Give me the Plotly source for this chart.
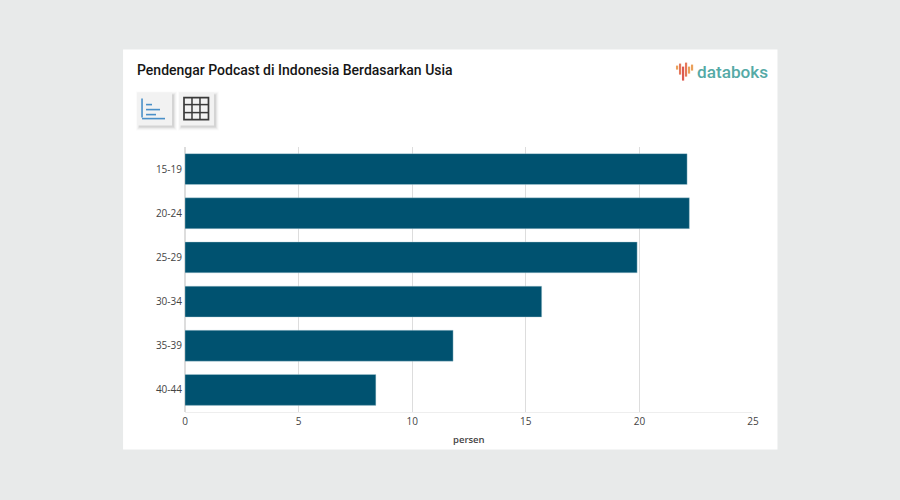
import plotly.graph_objects as go

categories = ["15-19", "20-24", "25-29", "30-34", "35-39", "40-44"]
values = [22.1, 22.2, 19.9, 15.7, 11.8, 8.4]
x_ticks = [0, 5, 10, 15, 20, 25]
title_text = "Pendengar Podcast di Indonesia Berdasarkan Usia"
x_title = "persen"
logo_text = "databoks"

W, H = 900, 500
L, R, T, B = 185, 753.5, 147.4, 412.4


def px(x):
    return (x - L) / (R - L)


def py(y):
    return (B - y) / (B - T)


shapes = []


def rect(x0, y0, x1, y1, fill=None, line=None, lw=1, layer="above"):
    s = dict(type="rect", xref="paper", yref="paper", x0=px(x0), x1=px(x1), y0=py(y1), y1=py(y0),
             layer=layer, line=dict(width=lw if line else 0, color=line or "rgba(0,0,0,0)"))
    if fill:
        s["fillcolor"] = fill
    shapes.append(s)


def seg(x0, y0, x1, y1, color, lw=1):
    shapes.append(dict(type="line", xref="paper", yref="paper", x0=px(x0), x1=px(x1), y0=py(y0), y1=py(y1),
                       layer="above", line=dict(color=color, width=lw)))


# white card
rect(123, 50, 778, 450, fill="#ffffff", layer="below")

# icon buttons with soft shadow
for bx0, bx1 in [(137, 172), (179, 214)]:
    for i, a in [(3, 0.02), (2, 0.03), (1, 0.05), (0, 0.07)]:
        rect(bx0 - i + 2, 93 - i + 2, bx1 + i + 2, 126 + i + 2, fill=f"rgba(0,0,0,{a})")
    rect(bx0, 93, bx1, 126, fill="#f2f2f2")

# chart icon
blue = "#4a90c8"
seg(142, 99, 142, 118, blue, 1.6)
seg(142, 119, 165, 119, blue, 1.6)
seg(146, 105, 152, 105, blue, 1.6)
seg(146, 110, 160, 110, blue, 1.6)
seg(146, 115, 156, 115, blue, 1.6)

# table icon
dark = "#3a3a3a"
rect(184, 98, 208.5, 120, line=dark, lw=1.7)
seg(192, 98, 192, 120, dark, 1.5)
seg(200, 98, 200, 120, dark, 1.5)
seg(184, 105, 208.5, 105, dark, 1.5)
seg(184, 113, 208.5, 113, dark, 1.5)

# logo glyph
logo_bars = [(677.5, 66, 70, "#eaa05a"), (680.5, 64, 75, "#e5775a"), (683.5, 67, 81, "#dc5a50"),
             (686.5, 63, 77, "#e5775a"), (689.5, 67, 74, "#eaa05a"), (692.5, 65, 71, "#eaa05a")]
for x, y0, y1, c in logo_bars:
    seg(x, y0, x, y1, c, 2.2)

fig = go.Figure(go.Bar(
    y=categories, x=values, orientation="h",
    marker=dict(color="#005270", line=dict(color="#b9d3dc", width=0.4)),
    width=0.7, hoverinfo="x+y",
))

fig.update_layout(
    width=W, height=H,
    margin=dict(l=L, r=W - R, t=T, b=H - B, pad=0),
    autosize=False,
    paper_bgcolor="#e8eaea",
    plot_bgcolor="rgba(0,0,0,0)",
    showlegend=False,
    shapes=shapes,
    font=dict(family="Open Sans, sans-serif", color="#444444", size=10),
    annotations=[
        dict(text=title_text, xref="paper", yref="paper", x=px(137), y=py(70),
             xanchor="left", yanchor="middle", showarrow=False, borderpad=0, xshift=-1,
             font=dict(family="Roboto, sans-serif", size=14, weight=500, color="#161616")),
        dict(text=logo_text, xref="paper", yref="paper", x=px(696), y=py(72),
             xanchor="left", yanchor="middle", showarrow=False, borderpad=0,
             font=dict(family="Roboto, sans-serif", size=17.2, weight=500, color="#55aaa6")),
        dict(text=x_title, xref="paper", yref="paper", x=px(469), y=py(440),
             xanchor="center", yanchor="middle", showarrow=False, borderpad=0,
             font=dict(family="Open Sans, sans-serif", size=9.5, weight=600, color="#444444")),
    ],
)
fig.update_xaxes(range=[0, 25], tickvals=x_ticks, showgrid=True, gridcolor="#dddddd", gridwidth=1,
                 zeroline=True, zerolinecolor="#dddddd", showline=True, linecolor="#eeeeee",
                 ticks="", ticklabelstandoff=0, fixedrange=True)
fig.update_yaxes(autorange="reversed", categoryorder="array", categoryarray=categories,
                 showgrid=False, ticks="", showline=False, ticklabelstandoff=2, fixedrange=True)

fig.write_html(
    "out.html",
    config=dict(displayModeBar=False),
    post_script="document.body.style.margin='0';document.body.style.overflow='hidden';",
)
